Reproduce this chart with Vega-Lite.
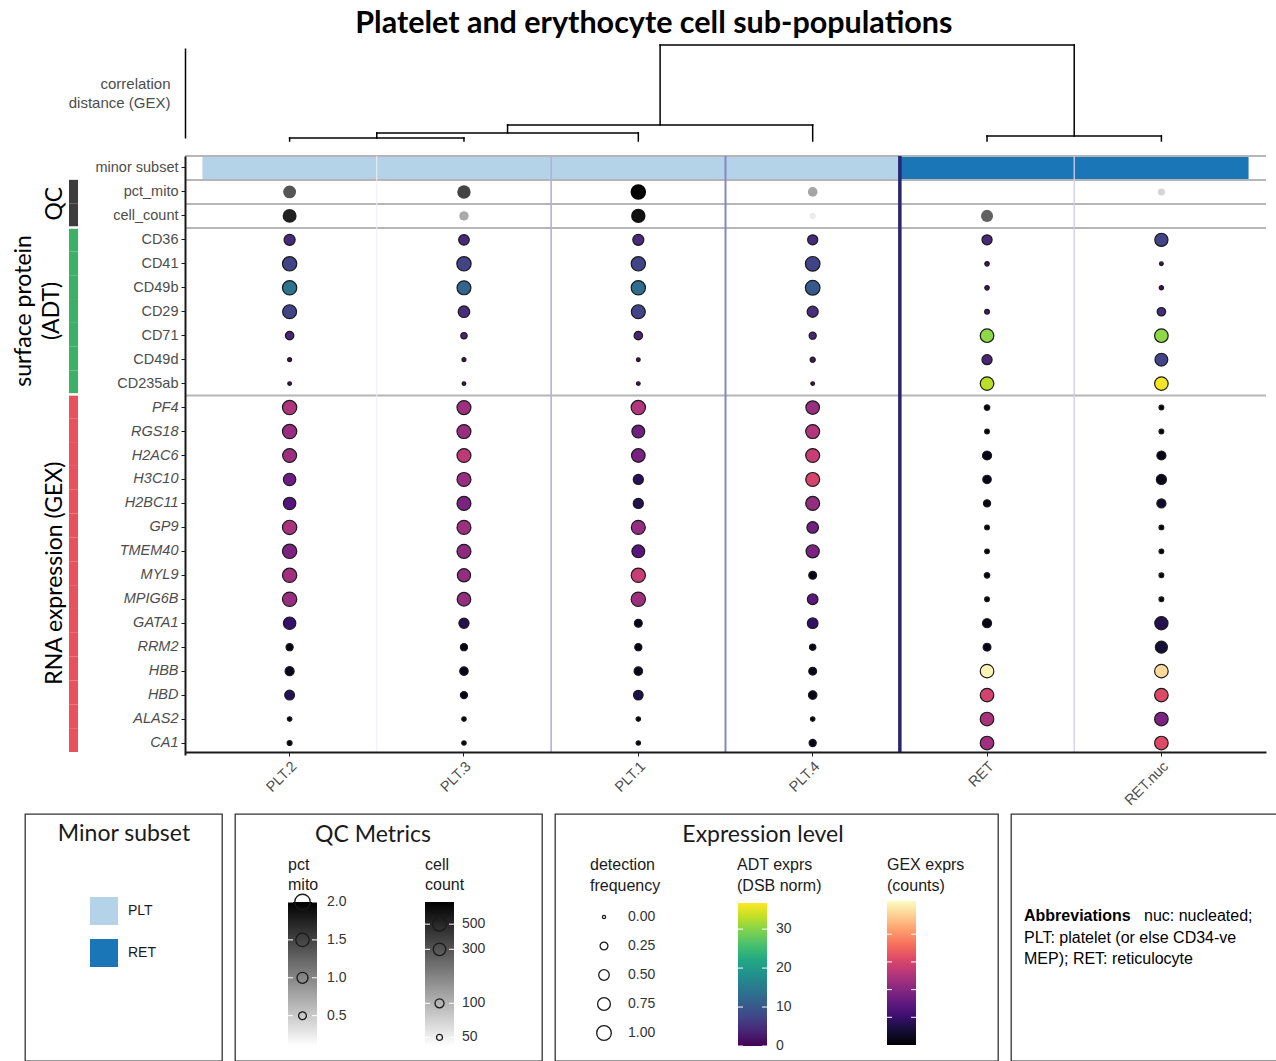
{
  "$schema": "https://vega.github.io/schema/vega-lite/v6.json",
  "padding": {"left": 5, "top": 9, "right": 0, "bottom": 0},
  "background": "white",
  "config": {"view": {"stroke": null}, "font": "Liberation Sans"},
  "title": {"text": "Platelet and erythocyte cell sub-populations", "font": "Lato", "fontSize": 30.5, "fontWeight": "bold", "color": "#000000", "anchor": "middle", "offset": 4, "dx": 12},
  "data": {"values": [{"one": 1}]},
  "datasets": {
    "subset": [
      {"c": "PLT.2", "r": "minor subset", "s": "PLT"},
      {"c": "PLT.3", "r": "minor subset", "s": "PLT"},
      {"c": "PLT.1", "r": "minor subset", "s": "PLT"},
      {"c": "PLT.4", "r": "minor subset", "s": "PLT"},
      {"c": "RET", "r": "minor subset", "s": "RET"},
      {"c": "RET.nuc", "r": "minor subset", "s": "RET"}
    ],
    "cuts": [
      {"c": "PLT.3", "h": 0.03},
      {"c": "PLT.1", "h": 0.08},
      {"c": "PLT.4", "h": 0.16},
      {"c": "RET.nuc", "h": 0.05},
      {"c": "RET", "h": 0.96}
    ],
    "hseps": [{"r": "minor subset"}, {"r": "pct_mito"}, {"r": "cell_count"}, {"r": "CD36"}, {"r": "PF4"}],
    "dendro": [
      {"x": 0, "x2": 0, "y": 0, "y2": 0.03},
      {"x": 1, "x2": 1, "y": 0, "y2": 0.03},
      {"x": 0, "x2": 1, "y": 0.03, "y2": 0.03},
      {"x": 0.5, "x2": 0.5, "y": 0.03, "y2": 0.08},
      {"x": 2, "x2": 2, "y": 0, "y2": 0.08},
      {"x": 0.5, "x2": 2, "y": 0.08, "y2": 0.08},
      {"x": 1.25, "x2": 1.25, "y": 0.08, "y2": 0.16},
      {"x": 3, "x2": 3, "y": 0, "y2": 0.16},
      {"x": 1.25, "x2": 3, "y": 0.16, "y2": 0.16},
      {"x": 2.125, "x2": 2.125, "y": 0.16, "y2": 0.96},
      {"x": 4, "x2": 4, "y": 0, "y2": 0.05},
      {"x": 5, "x2": 5, "y": 0, "y2": 0.05},
      {"x": 4, "x2": 5, "y": 0.05, "y2": 0.05},
      {"x": 4.5, "x2": 4.5, "y": 0.05, "y2": 0.96},
      {"x": 2.125, "x2": 4.5, "y": 0.96, "y2": 0.96}
    ],
    "groups": [
      {"r": "pct_mito", "g": "QC"}, {"r": "cell_count", "g": "QC"},
      {"r": "CD36", "g": "ADT"}, {"r": "CD41", "g": "ADT"}, {"r": "CD49b", "g": "ADT"}, {"r": "CD29", "g": "ADT"}, {"r": "CD71", "g": "ADT"}, {"r": "CD49d", "g": "ADT"}, {"r": "CD235ab", "g": "ADT"},
      {"r": "PF4", "g": "GEX"}, {"r": "RGS18", "g": "GEX"}, {"r": "H2AC6", "g": "GEX"}, {"r": "H3C10", "g": "GEX"}, {"r": "H2BC11", "g": "GEX"}, {"r": "GP9", "g": "GEX"}, {"r": "TMEM40", "g": "GEX"}, {"r": "MYL9", "g": "GEX"}, {"r": "MPIG6B", "g": "GEX"}, {"r": "GATA1", "g": "GEX"}, {"r": "RRM2", "g": "GEX"}, {"r": "HBB", "g": "GEX"}, {"r": "HBD", "g": "GEX"}, {"r": "ALAS2", "g": "GEX"}, {"r": "CA1", "g": "GEX"}
    ],
    "dots": [
      {"c": "PLT.2", "r": "pct_mito", "k": "QC", "v": 1.37},
      {"c": "PLT.3", "r": "pct_mito", "k": "QC", "v": 1.49},
      {"c": "PLT.1", "r": "pct_mito", "k": "QC", "v": 2.0},
      {"c": "PLT.4", "r": "pct_mito", "k": "QC", "v": 0.77},
      {"c": "RET.nuc", "r": "pct_mito", "k": "QC", "v": 0.41},
      {"c": "PLT.2", "r": "cell_count", "k": "QC", "v": 536},
      {"c": "PLT.3", "r": "cell_count", "k": "QC", "v": 111},
      {"c": "PLT.1", "r": "cell_count", "k": "QC", "v": 646},
      {"c": "PLT.4", "r": "cell_count", "k": "QC", "v": 52},
      {"c": "RET", "r": "cell_count", "k": "QC", "v": 258},

      {"c": "PLT.2", "r": "CD36", "k": "ADT", "v": 4.4, "f": 0.55},
      {"c": "PLT.2", "r": "CD41", "k": "ADT", "v": 7.3, "f": 0.95},
      {"c": "PLT.2", "r": "CD49b", "k": "ADT", "v": 14, "f": 0.95},
      {"c": "PLT.2", "r": "CD29", "k": "ADT", "v": 7.3, "f": 0.9},
      {"c": "PLT.2", "r": "CD71", "k": "ADT", "v": 3.7, "f": 0.3},
      {"c": "PLT.2", "r": "CD49d", "k": "ADT", "v": 1, "f": 0.03},
      {"c": "PLT.2", "r": "CD235ab", "k": "ADT", "v": 1, "f": 0.02},
      {"c": "PLT.3", "r": "CD36", "k": "ADT", "v": 4.4, "f": 0.5},
      {"c": "PLT.3", "r": "CD41", "k": "ADT", "v": 7.3, "f": 0.95},
      {"c": "PLT.3", "r": "CD49b", "k": "ADT", "v": 12, "f": 0.9},
      {"c": "PLT.3", "r": "CD29", "k": "ADT", "v": 4.6, "f": 0.6},
      {"c": "PLT.3", "r": "CD71", "k": "ADT", "v": 3.7, "f": 0.15},
      {"c": "PLT.3", "r": "CD49d", "k": "ADT", "v": 1, "f": 0.03},
      {"c": "PLT.3", "r": "CD235ab", "k": "ADT", "v": 1, "f": 0.02},
      {"c": "PLT.1", "r": "CD36", "k": "ADT", "v": 4.4, "f": 0.55},
      {"c": "PLT.1", "r": "CD41", "k": "ADT", "v": 7.3, "f": 0.95},
      {"c": "PLT.1", "r": "CD49b", "k": "ADT", "v": 13, "f": 0.95},
      {"c": "PLT.1", "r": "CD29", "k": "ADT", "v": 7.3, "f": 0.9},
      {"c": "PLT.1", "r": "CD71", "k": "ADT", "v": 3.7, "f": 0.3},
      {"c": "PLT.1", "r": "CD49d", "k": "ADT", "v": 1, "f": 0.02},
      {"c": "PLT.1", "r": "CD235ab", "k": "ADT", "v": 1, "f": 0.02},
      {"c": "PLT.4", "r": "CD36", "k": "ADT", "v": 4.4, "f": 0.45},
      {"c": "PLT.4", "r": "CD41", "k": "ADT", "v": 7.3, "f": 1.0},
      {"c": "PLT.4", "r": "CD49b", "k": "ADT", "v": 10.3, "f": 1.0},
      {"c": "PLT.4", "r": "CD29", "k": "ADT", "v": 4.6, "f": 0.55},
      {"c": "PLT.4", "r": "CD71", "k": "ADT", "v": 3.7, "f": 0.2},
      {"c": "PLT.4", "r": "CD49d", "k": "ADT", "v": 2, "f": 0.08},
      {"c": "PLT.4", "r": "CD235ab", "k": "ADT", "v": 1, "f": 0.02},
      {"c": "RET", "r": "CD36", "k": "ADT", "v": 4, "f": 0.45},
      {"c": "RET", "r": "CD41", "k": "ADT", "v": 1.5, "f": 0.05},
      {"c": "RET", "r": "CD49b", "k": "ADT", "v": 1.5, "f": 0.05},
      {"c": "RET", "r": "CD29", "k": "ADT", "v": 2, "f": 0.06},
      {"c": "RET", "r": "CD71", "k": "ADT", "v": 30.5, "f": 0.85},
      {"c": "RET", "r": "CD49d", "k": "ADT", "v": 3.7, "f": 0.45},
      {"c": "RET", "r": "CD235ab", "k": "ADT", "v": 33, "f": 0.85},
      {"c": "RET.nuc", "r": "CD36", "k": "ADT", "v": 7.3, "f": 0.8},
      {"c": "RET.nuc", "r": "CD41", "k": "ADT", "v": 1, "f": 0.02},
      {"c": "RET.nuc", "r": "CD49b", "k": "ADT", "v": 1, "f": 0.04},
      {"c": "RET.nuc", "r": "CD29", "k": "ADT", "v": 4.4, "f": 0.3},
      {"c": "RET.nuc", "r": "CD71", "k": "ADT", "v": 30.5, "f": 0.85},
      {"c": "RET.nuc", "r": "CD49d", "k": "ADT", "v": 7.3, "f": 0.75},
      {"c": "RET.nuc", "r": "CD235ab", "k": "ADT", "v": 36.3, "f": 0.85},

      {"c": "PLT.2", "r": "PF4", "k": "GEX", "v": 2.5, "f": 0.95},
      {"c": "PLT.2", "r": "RGS18", "k": "GEX", "v": 2.24, "f": 0.95},
      {"c": "PLT.2", "r": "H2AC6", "k": "GEX", "v": 2.29, "f": 0.9},
      {"c": "PLT.2", "r": "H3C10", "k": "GEX", "v": 1.66, "f": 0.7},
      {"c": "PLT.2", "r": "H2BC11", "k": "GEX", "v": 1.35, "f": 0.7},
      {"c": "PLT.2", "r": "GP9", "k": "GEX", "v": 2.44, "f": 0.95},
      {"c": "PLT.2", "r": "TMEM40", "k": "GEX", "v": 1.87, "f": 0.95},
      {"c": "PLT.2", "r": "MYL9", "k": "GEX", "v": 2.34, "f": 0.95},
      {"c": "PLT.2", "r": "MPIG6B", "k": "GEX", "v": 2.24, "f": 0.95},
      {"c": "PLT.2", "r": "GATA1", "k": "GEX", "v": 0.99, "f": 0.7},
      {"c": "PLT.2", "r": "RRM2", "k": "GEX", "v": 0.16, "f": 0.2},
      {"c": "PLT.2", "r": "HBB", "k": "GEX", "v": 0.26, "f": 0.35},
      {"c": "PLT.2", "r": "HBD", "k": "GEX", "v": 0.78, "f": 0.42},
      {"c": "PLT.2", "r": "ALAS2", "k": "GEX", "v": 0.1, "f": 0.05},
      {"c": "PLT.2", "r": "CA1", "k": "GEX", "v": 0.1, "f": 0.07},
      {"c": "PLT.3", "r": "PF4", "k": "GEX", "v": 2.29, "f": 0.9},
      {"c": "PLT.3", "r": "RGS18", "k": "GEX", "v": 2.24, "f": 0.9},
      {"c": "PLT.3", "r": "H2AC6", "k": "GEX", "v": 2.7, "f": 0.9},
      {"c": "PLT.3", "r": "H3C10", "k": "GEX", "v": 2.24, "f": 0.9},
      {"c": "PLT.3", "r": "H2BC11", "k": "GEX", "v": 1.87, "f": 0.9},
      {"c": "PLT.3", "r": "GP9", "k": "GEX", "v": 2.29, "f": 0.9},
      {"c": "PLT.3", "r": "TMEM40", "k": "GEX", "v": 2.13, "f": 0.9},
      {"c": "PLT.3", "r": "MYL9", "k": "GEX", "v": 2.18, "f": 0.8},
      {"c": "PLT.3", "r": "MPIG6B", "k": "GEX", "v": 2.18, "f": 0.85},
      {"c": "PLT.3", "r": "GATA1", "k": "GEX", "v": 0.73, "f": 0.45},
      {"c": "PLT.3", "r": "RRM2", "k": "GEX", "v": 0.16, "f": 0.2},
      {"c": "PLT.3", "r": "HBB", "k": "GEX", "v": 0.21, "f": 0.3},
      {"c": "PLT.3", "r": "HBD", "k": "GEX", "v": 0.21, "f": 0.2},
      {"c": "PLT.3", "r": "ALAS2", "k": "GEX", "v": 0.1, "f": 0.05},
      {"c": "PLT.3", "r": "CA1", "k": "GEX", "v": 0.1, "f": 0.05},
      {"c": "PLT.1", "r": "PF4", "k": "GEX", "v": 2.55, "f": 0.95},
      {"c": "PLT.1", "r": "RGS18", "k": "GEX", "v": 1.72, "f": 0.75},
      {"c": "PLT.1", "r": "H2AC6", "k": "GEX", "v": 1.82, "f": 0.85},
      {"c": "PLT.1", "r": "H3C10", "k": "GEX", "v": 0.78, "f": 0.45},
      {"c": "PLT.1", "r": "H2BC11", "k": "GEX", "v": 0.73, "f": 0.45},
      {"c": "PLT.1", "r": "GP9", "k": "GEX", "v": 2.18, "f": 0.9},
      {"c": "PLT.1", "r": "TMEM40", "k": "GEX", "v": 1.4, "f": 0.75},
      {"c": "PLT.1", "r": "MYL9", "k": "GEX", "v": 2.81, "f": 0.95},
      {"c": "PLT.1", "r": "MPIG6B", "k": "GEX", "v": 2.29, "f": 0.95},
      {"c": "PLT.1", "r": "GATA1", "k": "GEX", "v": 0.21, "f": 0.25},
      {"c": "PLT.1", "r": "RRM2", "k": "GEX", "v": 0.16, "f": 0.2},
      {"c": "PLT.1", "r": "HBB", "k": "GEX", "v": 0.21, "f": 0.3},
      {"c": "PLT.1", "r": "HBD", "k": "GEX", "v": 0.68, "f": 0.4},
      {"c": "PLT.1", "r": "ALAS2", "k": "GEX", "v": 0.1, "f": 0.05},
      {"c": "PLT.1", "r": "CA1", "k": "GEX", "v": 0.1, "f": 0.05},
      {"c": "PLT.4", "r": "PF4", "k": "GEX", "v": 2.24, "f": 0.85},
      {"c": "PLT.4", "r": "RGS18", "k": "GEX", "v": 2.55, "f": 0.9},
      {"c": "PLT.4", "r": "H2AC6", "k": "GEX", "v": 2.81, "f": 0.9},
      {"c": "PLT.4", "r": "H3C10", "k": "GEX", "v": 3.02, "f": 0.9},
      {"c": "PLT.4", "r": "H2BC11", "k": "GEX", "v": 2.18, "f": 0.9},
      {"c": "PLT.4", "r": "GP9", "k": "GEX", "v": 1.72, "f": 0.6},
      {"c": "PLT.4", "r": "TMEM40", "k": "GEX", "v": 1.87, "f": 0.8},
      {"c": "PLT.4", "r": "MYL9", "k": "GEX", "v": 0.21, "f": 0.25},
      {"c": "PLT.4", "r": "MPIG6B", "k": "GEX", "v": 1.46, "f": 0.5},
      {"c": "PLT.4", "r": "GATA1", "k": "GEX", "v": 0.94, "f": 0.5},
      {"c": "PLT.4", "r": "RRM2", "k": "GEX", "v": 0.16, "f": 0.15},
      {"c": "PLT.4", "r": "HBB", "k": "GEX", "v": 0.21, "f": 0.25},
      {"c": "PLT.4", "r": "HBD", "k": "GEX", "v": 0.21, "f": 0.3},
      {"c": "PLT.4", "r": "ALAS2", "k": "GEX", "v": 0.1, "f": 0.05},
      {"c": "PLT.4", "r": "CA1", "k": "GEX", "v": 0.21, "f": 0.2},
      {"c": "RET", "r": "PF4", "k": "GEX", "v": 0.1, "f": 0.1},
      {"c": "RET", "r": "RGS18", "k": "GEX", "v": 0.1, "f": 0.06},
      {"c": "RET", "r": "H2AC6", "k": "GEX", "v": 0.21, "f": 0.35},
      {"c": "RET", "r": "H3C10", "k": "GEX", "v": 0.21, "f": 0.3},
      {"c": "RET", "r": "H2BC11", "k": "GEX", "v": 0.21, "f": 0.2},
      {"c": "RET", "r": "GP9", "k": "GEX", "v": 0.1, "f": 0.06},
      {"c": "RET", "r": "TMEM40", "k": "GEX", "v": 0.1, "f": 0.06},
      {"c": "RET", "r": "MYL9", "k": "GEX", "v": 0.1, "f": 0.1},
      {"c": "RET", "r": "MPIG6B", "k": "GEX", "v": 0.1, "f": 0.06},
      {"c": "RET", "r": "GATA1", "k": "GEX", "v": 0.21, "f": 0.35},
      {"c": "RET", "r": "RRM2", "k": "GEX", "v": 0.21, "f": 0.25},
      {"c": "RET", "r": "HBB", "k": "GEX", "v": 5.1, "f": 0.85},
      {"c": "RET", "r": "HBD", "k": "GEX", "v": 2.96, "f": 0.85},
      {"c": "RET", "r": "ALAS2", "k": "GEX", "v": 2.44, "f": 0.85},
      {"c": "RET", "r": "CA1", "k": "GEX", "v": 2.34, "f": 0.85},
      {"c": "RET.nuc", "r": "PF4", "k": "GEX", "v": 0.1, "f": 0.06},
      {"c": "RET.nuc", "r": "RGS18", "k": "GEX", "v": 0.1, "f": 0.06},
      {"c": "RET.nuc", "r": "H2AC6", "k": "GEX", "v": 0.21, "f": 0.35},
      {"c": "RET.nuc", "r": "H3C10", "k": "GEX", "v": 0.26, "f": 0.45},
      {"c": "RET.nuc", "r": "H2BC11", "k": "GEX", "v": 0.42, "f": 0.35},
      {"c": "RET.nuc", "r": "GP9", "k": "GEX", "v": 0.1, "f": 0.06},
      {"c": "RET.nuc", "r": "TMEM40", "k": "GEX", "v": 0.1, "f": 0.06},
      {"c": "RET.nuc", "r": "MYL9", "k": "GEX", "v": 0.1, "f": 0.06},
      {"c": "RET.nuc", "r": "MPIG6B", "k": "GEX", "v": 0.1, "f": 0.06},
      {"c": "RET.nuc", "r": "GATA1", "k": "GEX", "v": 0.73, "f": 0.8},
      {"c": "RET.nuc", "r": "RRM2", "k": "GEX", "v": 0.52, "f": 0.65},
      {"c": "RET.nuc", "r": "HBB", "k": "GEX", "v": 4.8, "f": 0.85},
      {"c": "RET.nuc", "r": "HBD", "k": "GEX", "v": 3.12, "f": 0.85},
      {"c": "RET.nuc", "r": "ALAS2", "k": "GEX", "v": 1.87, "f": 0.85},
      {"c": "RET.nuc", "r": "CA1", "k": "GEX", "v": 3.12, "f": 0.85}
    ]
  },
  "spacing": 5,
  "resolve": {"scale": {"color": "independent", "size": "independent", "strokeWidth": "independent"}},
  "vconcat": [
    {
      "columns": 2, "align": "each", "bounds": "flush", "spacing": {"row": 18, "column": 102},
      "resolve": {"scale": {"color": "independent", "size": "independent", "strokeWidth": "independent"}},
      "concat": [
        {"width": 78, "height": 90, "mark": {"type": "point", "opacity": 0}, "encoding": {}},
        {
          "width": 1081, "height": 90,
          "data": {"name": "dendro"},
          "mark": {"type": "rule", "color": "#000000", "strokeWidth": 1.5, "strokeCap": "square"},
          "encoding": {
            "x": {"field": "x", "type": "quantitative", "scale": {"domain": [-0.6, 5.6], "nice": false, "zero": false}, "axis": null},
            "x2": {"field": "x2"},
            "y": {"field": "y", "type": "quantitative", "scale": {"domain": [0.03, 0.93], "nice": false, "zero": false},
              "axis": {"title": ["correlation", "distance (GEX)"], "labels": false, "ticks": false, "grid": false, "domain": true, "domainColor": "#000000", "domainWidth": 1.5, "titleAngle": 0, "titleAlign": "right", "titleBaseline": "middle", "titleX": -15, "titleY": 35, "titleFont": "Liberation Sans", "titleFontSize": 15, "titleFontWeight": "normal", "titleColor": "#4d4d4d", "titleLineHeight": 19}},
            "y2": {"field": "y2"}
          }
        },
        {
          "width": 78, "height": 596,
          "layer": [
            {"data": {"name": "groups"}, "mark": {"type": "rect"},
              "encoding": {
                "x": {"datum": 64, "type": "quantitative", "scale": {"domain": [0, 78], "nice": false, "zero": false}, "axis": null},
                "x2": {"datum": 73},
                "y": {"field": "r", "type": "nominal", "scale": {"type": "band", "domain": ["minor subset","pct_mito","cell_count","CD36","CD41","CD49b","CD29","CD71","CD49d","CD235ab","PF4","RGS18","H2AC6","H3C10","H2BC11","GP9","TMEM40","MYL9","MPIG6B","GATA1","RRM2","HBB","HBD","ALAS2","CA1"], "paddingInner": 0, "paddingOuter": 0, "range": [0, 596]}, "axis": null},
                "color": {"field": "g", "type": "nominal", "scale": {"domain": ["QC", "ADT", "GEX"], "range": ["#3d3d3d", "#3cb064", "#e8525c"]}, "legend": null}
              }},
            {"data": {"values": [{"r": "CD36"}, {"r": "PF4"}]}, "mark": {"type": "rule", "color": "#ffffff", "strokeWidth": 2.5},
              "encoding": {
                "x": {"datum": 62, "type": "quantitative", "scale": {"domain": [0, 78], "nice": false, "zero": false}, "axis": null},
                "x2": {"datum": 76},
                "y": {"field": "r", "type": "nominal", "bandPosition": 0, "scale": {"type": "band", "domain": ["minor subset","pct_mito","cell_count","CD36","CD41","CD49b","CD29","CD71","CD49d","CD235ab","PF4","RGS18","H2AC6","H3C10","H2BC11","GP9","TMEM40","MYL9","MPIG6B","GATA1","RRM2","HBB","HBD","ALAS2","CA1"], "paddingInner": 0, "paddingOuter": 0, "range": [0, 596]}, "axis": null}
              }},
            {"data": {"values": [{"r": "cell_count", "t": "QC"}]},
              "mark": {"type": "text", "angle": 270, "font": "Lato", "fontSize": 23, "align": "center", "baseline": "middle", "color": "#000000"},
              "encoding": {
                "x": {"datum": 50, "type": "quantitative", "scale": {"domain": [0, 78], "nice": false, "zero": false}, "axis": null},
                "y": {"field": "r", "type": "nominal", "bandPosition": 0, "scale": {"type": "band", "domain": ["minor subset","pct_mito","cell_count","CD36","CD41","CD49b","CD29","CD71","CD49d","CD235ab","PF4","RGS18","H2AC6","H3C10","H2BC11","GP9","TMEM40","MYL9","MPIG6B","GATA1","RRM2","HBB","HBD","ALAS2","CA1"], "paddingInner": 0, "paddingOuter": 0, "range": [0, 596]}, "axis": null},
                "text": {"field": "t"}
              }},
            {"data": {"values": [{"r": "CD29", "t": ["surface protein", "(ADT)"]}]},
              "mark": {"type": "text", "angle": 270, "font": "Lato", "fontSize": 23, "align": "center", "baseline": "middle", "color": "#000000", "lineHeight": 28},
              "encoding": {
                "x": {"datum": 19, "type": "quantitative", "scale": {"domain": [0, 78], "nice": false, "zero": false}, "axis": null},
                "y": {"field": "r", "type": "nominal", "scale": {"type": "band", "domain": ["minor subset","pct_mito","cell_count","CD36","CD41","CD49b","CD29","CD71","CD49d","CD235ab","PF4","RGS18","H2AC6","H3C10","H2BC11","GP9","TMEM40","MYL9","MPIG6B","GATA1","RRM2","HBB","HBD","ALAS2","CA1"], "paddingInner": 0, "paddingOuter": 0, "range": [0, 596]}, "axis": null},
                "text": {"field": "t"}
              }},
            {"data": {"values": [{"r": "MYL9", "t": "RNA expression (GEX)"}]},
              "mark": {"type": "text", "angle": 270, "font": "Lato", "fontSize": 23, "align": "center", "baseline": "middle", "color": "#000000"},
              "encoding": {
                "x": {"datum": 50, "type": "quantitative", "scale": {"domain": [0, 78], "nice": false, "zero": false}, "axis": null},
                "y": {"field": "r", "type": "nominal", "scale": {"type": "band", "domain": ["minor subset","pct_mito","cell_count","CD36","CD41","CD49b","CD29","CD71","CD49d","CD235ab","PF4","RGS18","H2AC6","H3C10","H2BC11","GP9","TMEM40","MYL9","MPIG6B","GATA1","RRM2","HBB","HBD","ALAS2","CA1"], "paddingInner": 0, "paddingOuter": 0, "range": [0, 596]}, "axis": null},
                "text": {"field": "t"}
              }}
          ]
        },
        {
          "width": 1081, "height": 596,
          "layer": [
            {"data": {"name": "subset"}, "mark": {"type": "rect"},
              "encoding": {
                "x": {"field": "c", "type": "nominal", "scale": {"type": "band", "domain": ["PLT.2","PLT.3","PLT.1","PLT.4","RET","RET.nuc"], "paddingInner": 0, "paddingOuter": 0.1},
                  "axis": {"title": null, "labelAngle": -45, "labelFontSize": 14.5, "labelColor": "#4d4d4d", "labelFont": "Liberation Sans", "tickColor": "#1a1a1a", "tickSize": 4, "tickWidth": 1, "domainColor": "#1a1a1a", "domainWidth": 2, "labelPadding": 3, "grid": false}},
                "y": {"field": "r", "type": "nominal", "scale": {"type": "band", "domain": ["minor subset","pct_mito","cell_count","CD36","CD41","CD49b","CD29","CD71","CD49d","CD235ab","PF4","RGS18","H2AC6","H3C10","H2BC11","GP9","TMEM40","MYL9","MPIG6B","GATA1","RRM2","HBB","HBD","ALAS2","CA1"], "paddingInner": 0, "paddingOuter": 0, "range": [0, 599]},
                  "axis": {"title": null, "labelFontSize": 14.5, "labelColor": "#4d4d4d", "labelFont": "Liberation Sans", "tickColor": "#1a1a1a", "tickSize": 4, "tickWidth": 1, "domainColor": "#1a1a1a", "domainWidth": 2, "labelPadding": 3, "grid": false,
                    "labelFontStyle": {"condition": {"test": "indexof(['PF4','RGS18','H2AC6','H3C10','H2BC11','GP9','TMEM40','MYL9','MPIG6B','GATA1','RRM2','HBB','HBD','ALAS2','CA1'], datum.value) >= 0", "value": "italic"}, "value": "normal"}}},
                "color": {"field": "s", "type": "nominal", "scale": {"domain": ["PLT", "RET"], "range": ["#b4d3e9", "#1a76b6"]}, "legend": null}
              }},
            {"data": {"name": "hseps"}, "mark": {"type": "rule", "color": "#b5b5b5", "strokeWidth": 2},
              "encoding": {
                "y": {"field": "r", "type": "nominal", "bandPosition": 0, "scale": {"type": "band", "domain": ["minor subset","pct_mito","cell_count","CD36","CD41","CD49b","CD29","CD71","CD49d","CD235ab","PF4","RGS18","H2AC6","H3C10","H2BC11","GP9","TMEM40","MYL9","MPIG6B","GATA1","RRM2","HBB","HBD","ALAS2","CA1"], "paddingInner": 0, "paddingOuter": 0, "range": [0, 599]},
                  "axis": {"title": null, "labelFontSize": 14.5, "labelColor": "#4d4d4d", "labelFont": "Liberation Sans", "tickColor": "#1a1a1a", "tickSize": 4, "tickWidth": 1, "domainColor": "#1a1a1a", "domainWidth": 2, "labelPadding": 3, "grid": false,
                    "labelFontStyle": {"condition": {"test": "indexof(['PF4','RGS18','H2AC6','H3C10','H2BC11','GP9','TMEM40','MYL9','MPIG6B','GATA1','RRM2','HBB','HBD','ALAS2','CA1'], datum.value) >= 0", "value": "italic"}, "value": "normal"}}}
              }},
            {"data": {"name": "cuts"}, "mark": {"type": "rule"},
              "encoding": {
                "x": {"field": "c", "type": "nominal", "bandPosition": 0, "scale": {"type": "band", "domain": ["PLT.2","PLT.3","PLT.1","PLT.4","RET","RET.nuc"], "paddingInner": 0, "paddingOuter": 0.1},
                  "axis": {"title": null, "labelAngle": -45, "labelFontSize": 14.5, "labelColor": "#4d4d4d", "labelFont": "Liberation Sans", "tickColor": "#1a1a1a", "tickSize": 4, "tickWidth": 1, "domainColor": "#1a1a1a", "domainWidth": 2, "labelPadding": 3, "grid": false}},
                "color": {"field": "h", "type": "quantitative", "scale": {"type": "log", "domain": [0.03, 0.16, 0.96], "range": ["#ededf5", "#8585c8", "#262673"], "interpolate": "rgb"}, "legend": null},
                "strokeWidth": {"field": "h", "type": "quantitative", "scale": {"type": "log", "domain": [0.03, 0.16, 0.96], "range": [1, 2, 3.5]}, "legend": null}
              }},
            {"data": {"name": "dots"}, "transform": [{"filter": "datum.r == 'pct_mito'"}],
              "mark": {"type": "circle", "opacity": 1, "strokeWidth": 0},
              "encoding": {
                "x": {"field": "c", "type": "nominal", "scale": {"type": "band", "domain": ["PLT.2","PLT.3","PLT.1","PLT.4","RET","RET.nuc"], "paddingInner": 0, "paddingOuter": 0.1},
                  "axis": {"title": null, "labelAngle": -45, "labelFontSize": 14.5, "labelColor": "#4d4d4d", "labelFont": "Liberation Sans", "tickColor": "#1a1a1a", "tickSize": 4, "tickWidth": 1, "domainColor": "#1a1a1a", "domainWidth": 2, "labelPadding": 3, "grid": false}},
                "y": {"field": "r", "type": "nominal", "scale": {"type": "band", "domain": ["minor subset","pct_mito","cell_count","CD36","CD41","CD49b","CD29","CD71","CD49d","CD235ab","PF4","RGS18","H2AC6","H3C10","H2BC11","GP9","TMEM40","MYL9","MPIG6B","GATA1","RRM2","HBB","HBD","ALAS2","CA1"], "paddingInner": 0, "paddingOuter": 0, "range": [0, 599]},
                  "axis": {"title": null, "labelFontSize": 14.5, "labelColor": "#4d4d4d", "labelFont": "Liberation Sans", "tickColor": "#1a1a1a", "tickSize": 4, "tickWidth": 1, "domainColor": "#1a1a1a", "domainWidth": 2, "labelPadding": 3, "grid": false,
                    "labelFontStyle": {"condition": {"test": "indexof(['PF4','RGS18','H2AC6','H3C10','H2BC11','GP9','TMEM40','MYL9','MPIG6B','GATA1','RRM2','HBB','HBD','ALAS2','CA1'], datum.value) >= 0", "value": "italic"}, "value": "normal"}}},
                "color": {"field": "v", "type": "quantitative", "scale": {"domain": [0.1, 2.0], "range": ["#ffffff", "#000000"], "interpolate": "rgb"}, "legend": null},
                "size": {"field": "v", "type": "quantitative", "scale": {"domain": [0.1, 2.0], "range": [13, 240]}, "legend": null}
              }},
            {"data": {"name": "dots"}, "transform": [{"filter": "datum.r == 'cell_count'"}],
              "mark": {"type": "circle", "opacity": 1, "strokeWidth": 0},
              "encoding": {
                "x": {"field": "c", "type": "nominal", "scale": {"type": "band", "domain": ["PLT.2","PLT.3","PLT.1","PLT.4","RET","RET.nuc"], "paddingInner": 0, "paddingOuter": 0.1},
                  "axis": {"title": null, "labelAngle": -45, "labelFontSize": 14.5, "labelColor": "#4d4d4d", "labelFont": "Liberation Sans", "tickColor": "#1a1a1a", "tickSize": 4, "tickWidth": 1, "domainColor": "#1a1a1a", "domainWidth": 2, "labelPadding": 3, "grid": false}},
                "y": {"field": "r", "type": "nominal", "scale": {"type": "band", "domain": ["minor subset","pct_mito","cell_count","CD36","CD41","CD49b","CD29","CD71","CD49d","CD235ab","PF4","RGS18","H2AC6","H3C10","H2BC11","GP9","TMEM40","MYL9","MPIG6B","GATA1","RRM2","HBB","HBD","ALAS2","CA1"], "paddingInner": 0, "paddingOuter": 0, "range": [0, 599]},
                  "axis": {"title": null, "labelFontSize": 14.5, "labelColor": "#4d4d4d", "labelFont": "Liberation Sans", "tickColor": "#1a1a1a", "tickSize": 4, "tickWidth": 1, "domainColor": "#1a1a1a", "domainWidth": 2, "labelPadding": 3, "grid": false,
                    "labelFontStyle": {"condition": {"test": "indexof(['PF4','RGS18','H2AC6','H3C10','H2BC11','GP9','TMEM40','MYL9','MPIG6B','GATA1','RRM2','HBB','HBD','ALAS2','CA1'], datum.value) >= 0", "value": "italic"}, "value": "normal"}}},
                "color": {"field": "v", "type": "quantitative", "scale": {"type": "log", "domain": [42, 785], "range": ["#ffffff", "#000000"], "interpolate": "rgb"}, "legend": null},
                "size": {"field": "v", "type": "quantitative", "scale": {"type": "log", "domain": [42, 785], "range": [24, 220]}, "legend": null}
              }},
            {"data": {"name": "dots"}, "transform": [{"filter": "datum.k == 'ADT'"}],
              "mark": {"type": "circle", "opacity": 1, "stroke": "#1a1a1a", "strokeWidth": 1.2},
              "encoding": {
                "x": {"field": "c", "type": "nominal", "scale": {"type": "band", "domain": ["PLT.2","PLT.3","PLT.1","PLT.4","RET","RET.nuc"], "paddingInner": 0, "paddingOuter": 0.1},
                  "axis": {"title": null, "labelAngle": -45, "labelFontSize": 14.5, "labelColor": "#4d4d4d", "labelFont": "Liberation Sans", "tickColor": "#1a1a1a", "tickSize": 4, "tickWidth": 1, "domainColor": "#1a1a1a", "domainWidth": 2, "labelPadding": 3, "grid": false}},
                "y": {"field": "r", "type": "nominal", "scale": {"type": "band", "domain": ["minor subset","pct_mito","cell_count","CD36","CD41","CD49b","CD29","CD71","CD49d","CD235ab","PF4","RGS18","H2AC6","H3C10","H2BC11","GP9","TMEM40","MYL9","MPIG6B","GATA1","RRM2","HBB","HBD","ALAS2","CA1"], "paddingInner": 0, "paddingOuter": 0, "range": [0, 599]},
                  "axis": {"title": null, "labelFontSize": 14.5, "labelColor": "#4d4d4d", "labelFont": "Liberation Sans", "tickColor": "#1a1a1a", "tickSize": 4, "tickWidth": 1, "domainColor": "#1a1a1a", "domainWidth": 2, "labelPadding": 3, "grid": false,
                    "labelFontStyle": {"condition": {"test": "indexof(['PF4','RGS18','H2AC6','H3C10','H2BC11','GP9','TMEM40','MYL9','MPIG6B','GATA1','RRM2','HBB','HBD','ALAS2','CA1'], datum.value) >= 0", "value": "italic"}, "value": "normal"}}},
                "color": {"field": "v", "type": "quantitative", "scale": {"scheme": "viridis", "domain": [0, 36.7]}, "legend": null},
                "size": {"field": "f", "type": "quantitative", "scale": {"domain": [0, 1], "range": [10, 215]}, "legend": null}
              }},
            {"data": {"name": "dots"}, "transform": [{"filter": "datum.k == 'GEX'"}],
              "mark": {"type": "circle", "opacity": 1, "stroke": "#1a1a1a", "strokeWidth": 1.2},
              "encoding": {
                "x": {"field": "c", "type": "nominal", "scale": {"type": "band", "domain": ["PLT.2","PLT.3","PLT.1","PLT.4","RET","RET.nuc"], "paddingInner": 0, "paddingOuter": 0.1},
                  "axis": {"title": null, "labelAngle": -45, "labelFontSize": 14.5, "labelColor": "#4d4d4d", "labelFont": "Liberation Sans", "tickColor": "#1a1a1a", "tickSize": 4, "tickWidth": 1, "domainColor": "#1a1a1a", "domainWidth": 2, "labelPadding": 3, "grid": false}},
                "y": {"field": "r", "type": "nominal", "scale": {"type": "band", "domain": ["minor subset","pct_mito","cell_count","CD36","CD41","CD49b","CD29","CD71","CD49d","CD235ab","PF4","RGS18","H2AC6","H3C10","H2BC11","GP9","TMEM40","MYL9","MPIG6B","GATA1","RRM2","HBB","HBD","ALAS2","CA1"], "paddingInner": 0, "paddingOuter": 0, "range": [0, 599]},
                  "axis": {"title": null, "labelFontSize": 14.5, "labelColor": "#4d4d4d", "labelFont": "Liberation Sans", "tickColor": "#1a1a1a", "tickSize": 4, "tickWidth": 1, "domainColor": "#1a1a1a", "domainWidth": 2, "labelPadding": 3, "grid": false,
                    "labelFontStyle": {"condition": {"test": "indexof(['PF4','RGS18','H2AC6','H3C10','H2BC11','GP9','TMEM40','MYL9','MPIG6B','GATA1','RRM2','HBB','HBD','ALAS2','CA1'], datum.value) >= 0", "value": "italic"}, "value": "normal"}}},
                "color": {"field": "v", "type": "quantitative", "scale": {"scheme": "magma", "domain": [0, 5.2]}, "legend": null},
                "size": {"field": "f", "type": "quantitative", "scale": {"domain": [0, 1], "range": [10, 215]}, "legend": null}
              }}
          ],
          "resolve": {"scale": {"color": "independent", "size": "independent", "strokeWidth": "independent"}}
        }
      ]
    },
    {
      "spacing": 11,
      "resolve": {"scale": {"color": "independent", "size": "independent", "strokeWidth": "independent"}},
      "hconcat": [
        {"width": 8, "height": 10, "mark": {"type": "point", "opacity": 0}, "encoding": {}},
        {
          "width": 197, "height": 247, "view": {"stroke": "#333333", "strokeWidth": 1.3},
          "layer": [
            {"mark": {"type": "text", "text": "Minor subset", "font": "Lato", "fontSize": 23, "align": "center", "baseline": "middle", "color": "#1a1a1a"},
              "encoding": {
                "x": {"datum": 99, "type": "quantitative", "scale": {"domain": [0, 197], "nice": false, "zero": false}, "axis": null},
                "y": {"datum": 20, "type": "quantitative", "scale": {"domain": [0, 247], "range": [0, 247], "nice": false, "zero": false}, "axis": null}
              }},
            {"data": {"values": [{"s": "PLT"}, {"s": "RET"}]},
              "layer": [
                {"mark": {"type": "square", "size": 784, "opacity": 1, "filled": true},
                  "encoding": {
                    "x": {"datum": 79, "type": "quantitative", "scale": {"domain": [0, 197], "nice": false, "zero": false}, "axis": null},
                    "y": {"field": "s", "type": "nominal", "scale": {"type": "point", "domain": ["PLT", "RET"], "range": [97, 139], "padding": 0}, "axis": null},
                    "color": {"field": "s", "type": "nominal", "scale": {"domain": ["PLT", "RET"], "range": ["#b4d3e9", "#1a76b6"]}, "legend": null}
                  }},
                {"mark": {"type": "text", "fontSize": 14, "align": "left", "baseline": "middle", "color": "#1a1a1a"},
                  "encoding": {
                    "x": {"datum": 103, "type": "quantitative", "scale": {"domain": [0, 197], "nice": false, "zero": false}, "axis": null},
                    "y": {"field": "s", "type": "nominal", "scale": {"type": "point", "domain": ["PLT", "RET"], "range": [97, 139], "padding": 0}, "axis": null},
                    "text": {"field": "s"}
                  }}
              ]}
          ],
          "resolve": {"scale": {"y": "independent"}}
        },
        {
          "width": 307, "height": 247, "view": {"stroke": "#333333", "strokeWidth": 1.3},
          "layer": [
            {"layer": [
              {"mark": {"type": "text", "text": "QC Metrics", "font": "Lato", "fontSize": 23, "align": "center", "baseline": "middle", "color": "#1a1a1a"},
                "encoding": {
                  "x": {"datum": 138, "type": "quantitative", "scale": {"domain": [0, 307], "nice": false, "zero": false}, "axis": null},
                  "y": {"datum": 21, "type": "quantitative", "scale": {"domain": [0, 247], "range": [0, 247], "nice": false, "zero": false}, "axis": null}
                }},
              {"mark": {"type": "text", "text": ["pct", "mito"], "fontSize": 16, "align": "left", "baseline": "alphabetic", "lineHeight": 20, "color": "#1a1a1a"},
                "encoding": {
                  "x": {"datum": 53, "type": "quantitative", "scale": {"domain": [0, 307], "nice": false, "zero": false}, "axis": null},
                  "y": {"datum": 56, "type": "quantitative", "scale": {"domain": [0, 247], "range": [0, 247], "nice": false, "zero": false}, "axis": null}
                }},
              {"mark": {"type": "text", "text": ["cell", "count"], "fontSize": 16, "align": "left", "baseline": "alphabetic", "lineHeight": 20, "color": "#1a1a1a"},
                "encoding": {
                  "x": {"datum": 190, "type": "quantitative", "scale": {"domain": [0, 307], "nice": false, "zero": false}, "axis": null},
                  "y": {"datum": 56, "type": "quantitative", "scale": {"domain": [0, 247], "range": [0, 247], "nice": false, "zero": false}, "axis": null}
                }}
            ]},
            {"data": {"values": [{"v": 2.0}, {"v": 1.5}, {"v": 1.0}, {"v": 0.5}]},
              "layer": [
                {"data": {"values": [{"one": 1}]},
                  "mark": {"type": "rect", "fill": {"gradient": "linear", "x1": 0, "y1": 1, "x2": 0, "y2": 0, "stops": [{"offset": 0, "color": "#ffffff"}, {"offset": 1, "color": "#000000"}]}},
                  "encoding": {
                    "x": {"datum": 53, "type": "quantitative", "scale": {"domain": [0, 307], "nice": false, "zero": false}, "axis": null},
                    "x2": {"datum": 82},
                    "y": {"datum": 0.1, "type": "quantitative", "scale": {"domain": [0.1, 2.0], "range": [232, 88], "nice": false, "zero": false}, "axis": null},
                    "y2": {"datum": 2.0}
                  }},
                {"mark": {"type": "rule", "color": "#ffffff", "strokeWidth": 1},
                  "encoding": {
                    "x": {"datum": 53, "type": "quantitative", "scale": {"domain": [0, 307], "nice": false, "zero": false}, "axis": null},
                    "x2": {"datum": 58},
                    "y": {"field": "v", "type": "quantitative", "scale": {"domain": [0.1, 2.0], "range": [232, 88], "nice": false, "zero": false}, "axis": null}
                  }},
                {"mark": {"type": "rule", "color": "#ffffff", "strokeWidth": 1},
                  "encoding": {
                    "x": {"datum": 77, "type": "quantitative", "scale": {"domain": [0, 307], "nice": false, "zero": false}, "axis": null},
                    "x2": {"datum": 82},
                    "y": {"field": "v", "type": "quantitative", "scale": {"domain": [0.1, 2.0], "range": [232, 88], "nice": false, "zero": false}, "axis": null}
                  }},
                {"mark": {"type": "point", "filled": false, "color": "#1a1a1a", "strokeWidth": 1.3, "opacity": 1},
                  "encoding": {
                    "x": {"datum": 67.5, "type": "quantitative", "scale": {"domain": [0, 307], "nice": false, "zero": false}, "axis": null},
                    "y": {"field": "v", "type": "quantitative", "scale": {"domain": [0.1, 2.0], "range": [232, 88], "nice": false, "zero": false}, "axis": null},
                    "size": {"field": "v", "type": "quantitative", "scale": {"domain": [0.1, 2.0], "range": [13, 240]}, "legend": null}
                  }},
                {"mark": {"type": "text", "fontSize": 14, "align": "left", "baseline": "middle", "color": "#333333"},
                  "encoding": {
                    "x": {"datum": 92, "type": "quantitative", "scale": {"domain": [0, 307], "nice": false, "zero": false}, "axis": null},
                    "y": {"field": "v", "type": "quantitative", "scale": {"domain": [0.1, 2.0], "range": [232, 88], "nice": false, "zero": false}, "axis": null},
                    "text": {"field": "v", "type": "quantitative", "format": ".1f"}
                  }}
              ]},
            {"data": {"values": [{"v": 500}, {"v": 300}, {"v": 100}, {"v": 50}]},
              "layer": [
                {"data": {"values": [{"one": 1}]},
                  "mark": {"type": "rect", "fill": {"gradient": "linear", "x1": 0, "y1": 1, "x2": 0, "y2": 0, "stops": [{"offset": 0, "color": "#ffffff"}, {"offset": 1, "color": "#000000"}]}},
                  "encoding": {
                    "x": {"datum": 190, "type": "quantitative", "scale": {"domain": [0, 307], "nice": false, "zero": false}, "axis": null},
                    "x2": {"datum": 219},
                    "y": {"datum": 42, "type": "quantitative", "scale": {"type": "log", "domain": [42, 785], "range": [232, 88], "nice": false, "zero": false}, "axis": null},
                    "y2": {"datum": 785}
                  }},
                {"mark": {"type": "rule", "color": "#ffffff", "strokeWidth": 1},
                  "encoding": {
                    "x": {"datum": 190, "type": "quantitative", "scale": {"domain": [0, 307], "nice": false, "zero": false}, "axis": null},
                    "x2": {"datum": 195},
                    "y": {"field": "v", "type": "quantitative", "scale": {"type": "log", "domain": [42, 785], "range": [232, 88], "nice": false, "zero": false}, "axis": null}
                  }},
                {"mark": {"type": "rule", "color": "#ffffff", "strokeWidth": 1},
                  "encoding": {
                    "x": {"datum": 214, "type": "quantitative", "scale": {"domain": [0, 307], "nice": false, "zero": false}, "axis": null},
                    "x2": {"datum": 219},
                    "y": {"field": "v", "type": "quantitative", "scale": {"type": "log", "domain": [42, 785], "range": [232, 88], "nice": false, "zero": false}, "axis": null}
                  }},
                {"mark": {"type": "point", "filled": false, "color": "#1a1a1a", "strokeWidth": 1.3, "opacity": 1},
                  "encoding": {
                    "x": {"datum": 204.5, "type": "quantitative", "scale": {"domain": [0, 307], "nice": false, "zero": false}, "axis": null},
                    "y": {"field": "v", "type": "quantitative", "scale": {"type": "log", "domain": [42, 785], "range": [232, 88], "nice": false, "zero": false}, "axis": null},
                    "size": {"field": "v", "type": "quantitative", "scale": {"type": "log", "domain": [42, 785], "range": [24, 220]}, "legend": null}
                  }},
                {"mark": {"type": "text", "fontSize": 14, "align": "left", "baseline": "middle", "color": "#333333"},
                  "encoding": {
                    "x": {"datum": 227, "type": "quantitative", "scale": {"domain": [0, 307], "nice": false, "zero": false}, "axis": null},
                    "y": {"field": "v", "type": "quantitative", "scale": {"type": "log", "domain": [42, 785], "range": [232, 88], "nice": false, "zero": false}, "axis": null},
                    "text": {"field": "v", "type": "quantitative", "format": "d"}
                  }}
              ]}
          ],
          "resolve": {"scale": {"y": "independent", "size": "independent"}}
        },
        {
          "width": 443, "height": 247, "view": {"stroke": "#333333", "strokeWidth": 1.3},
          "layer": [
            {"layer": [
              {"mark": {"type": "text", "text": "Expression level", "font": "Lato", "fontSize": 23, "align": "center", "baseline": "middle", "color": "#1a1a1a"},
                "encoding": {
                  "x": {"datum": 208, "type": "quantitative", "scale": {"domain": [0, 443], "nice": false, "zero": false}, "axis": null},
                  "y": {"datum": 21, "type": "quantitative", "scale": {"domain": [0, 247], "range": [0, 247], "nice": false, "zero": false}, "axis": null}
                }},
              {"mark": {"type": "text", "text": ["detection", "frequency"], "fontSize": 16, "align": "left", "baseline": "alphabetic", "lineHeight": 20.5, "color": "#1a1a1a"},
                "encoding": {
                  "x": {"datum": 35, "type": "quantitative", "scale": {"domain": [0, 443], "nice": false, "zero": false}, "axis": null},
                  "y": {"datum": 56, "type": "quantitative", "scale": {"domain": [0, 247], "range": [0, 247], "nice": false, "zero": false}, "axis": null}
                }},
              {"mark": {"type": "text", "text": ["ADT exprs", "(DSB norm)"], "fontSize": 16, "align": "left", "baseline": "alphabetic", "lineHeight": 20.5, "color": "#1a1a1a"},
                "encoding": {
                  "x": {"datum": 182, "type": "quantitative", "scale": {"domain": [0, 443], "nice": false, "zero": false}, "axis": null},
                  "y": {"datum": 56, "type": "quantitative", "scale": {"domain": [0, 247], "range": [0, 247], "nice": false, "zero": false}, "axis": null}
                }},
              {"mark": {"type": "text", "text": ["GEX exprs", "(counts)"], "fontSize": 16, "align": "left", "baseline": "alphabetic", "lineHeight": 20.5, "color": "#1a1a1a"},
                "encoding": {
                  "x": {"datum": 332, "type": "quantitative", "scale": {"domain": [0, 443], "nice": false, "zero": false}, "axis": null},
                  "y": {"datum": 56, "type": "quantitative", "scale": {"domain": [0, 247], "range": [0, 247], "nice": false, "zero": false}, "axis": null}
                }}
            ]},
            {"data": {"values": [{"f": 0}, {"f": 0.25}, {"f": 0.5}, {"f": 0.75}, {"f": 1}]},
              "layer": [
                {"mark": {"type": "point", "filled": false, "color": "#1a1a1a", "strokeWidth": 1.3, "opacity": 1},
                  "encoding": {
                    "x": {"datum": 49, "type": "quantitative", "scale": {"domain": [0, 443], "nice": false, "zero": false}, "axis": null},
                    "y": {"field": "f", "type": "quantitative", "scale": {"domain": [0, 1], "range": [103, 219], "nice": false, "zero": false}, "axis": null},
                    "size": {"field": "f", "type": "quantitative", "scale": {"domain": [0, 1], "range": [10, 215]}, "legend": null}
                  }},
                {"mark": {"type": "text", "fontSize": 14, "align": "left", "baseline": "middle", "color": "#333333"},
                  "encoding": {
                    "x": {"datum": 73, "type": "quantitative", "scale": {"domain": [0, 443], "nice": false, "zero": false}, "axis": null},
                    "y": {"field": "f", "type": "quantitative", "scale": {"domain": [0, 1], "range": [103, 219], "nice": false, "zero": false}, "axis": null},
                    "text": {"field": "f", "type": "quantitative", "format": ".2f"}
                  }}
              ]},
            {"data": {"values": [{"v": 0}, {"v": 10}, {"v": 20}, {"v": 30}]},
              "layer": [
                {"data": {"values": [{"one": 1}]},
                  "mark": {"type": "rect", "fill": {"gradient": "linear", "x1": 0, "y1": 1, "x2": 0, "y2": 0, "stops": [
                    {"offset": 0, "color": "#440154"}, {"offset": 0.1, "color": "#482475"}, {"offset": 0.2, "color": "#414487"}, {"offset": 0.3, "color": "#355f8d"}, {"offset": 0.4, "color": "#2a788e"}, {"offset": 0.5, "color": "#21918c"}, {"offset": 0.6, "color": "#22a884"}, {"offset": 0.7, "color": "#44bf70"}, {"offset": 0.8, "color": "#7ad151"}, {"offset": 0.9, "color": "#bddf26"}, {"offset": 1, "color": "#fde725"}]}},
                  "encoding": {
                    "x": {"datum": 183, "type": "quantitative", "scale": {"domain": [0, 443], "nice": false, "zero": false}, "axis": null},
                    "x2": {"datum": 212},
                    "y": {"datum": 0, "type": "quantitative", "scale": {"domain": [0, 36.7], "range": [232, 89], "nice": false, "zero": false}, "axis": null},
                    "y2": {"datum": 36.7}
                  }},
                {"mark": {"type": "rule", "color": "#ffffff", "strokeWidth": 1},
                  "encoding": {
                    "x": {"datum": 183, "type": "quantitative", "scale": {"domain": [0, 443], "nice": false, "zero": false}, "axis": null},
                    "x2": {"datum": 188},
                    "y": {"field": "v", "type": "quantitative", "scale": {"domain": [0, 36.7], "range": [232, 89], "nice": false, "zero": false}, "axis": null}
                  }},
                {"mark": {"type": "rule", "color": "#ffffff", "strokeWidth": 1},
                  "encoding": {
                    "x": {"datum": 207, "type": "quantitative", "scale": {"domain": [0, 443], "nice": false, "zero": false}, "axis": null},
                    "x2": {"datum": 212},
                    "y": {"field": "v", "type": "quantitative", "scale": {"domain": [0, 36.7], "range": [232, 89], "nice": false, "zero": false}, "axis": null}
                  }},
                {"mark": {"type": "text", "fontSize": 14, "align": "left", "baseline": "middle", "color": "#333333"},
                  "encoding": {
                    "x": {"datum": 221, "type": "quantitative", "scale": {"domain": [0, 443], "nice": false, "zero": false}, "axis": null},
                    "y": {"field": "v", "type": "quantitative", "scale": {"domain": [0, 36.7], "range": [232, 89], "nice": false, "zero": false}, "axis": null},
                    "text": {"field": "v", "type": "quantitative", "format": "d"}
                  }}
              ]},
            {"data": {"values": [{"v": 1}, {"v": 2}, {"v": 3}, {"v": 4}]},
              "layer": [
                {"data": {"values": [{"one": 1}]},
                  "mark": {"type": "rect", "fill": {"gradient": "linear", "x1": 0, "y1": 1, "x2": 0, "y2": 0, "stops": [
                    {"offset": 0, "color": "#000004"}, {"offset": 0.1, "color": "#140e36"}, {"offset": 0.2, "color": "#3b0f70"}, {"offset": 0.3, "color": "#641a80"}, {"offset": 0.4, "color": "#8c2981"}, {"offset": 0.5, "color": "#b73779"}, {"offset": 0.6, "color": "#de4968"}, {"offset": 0.7, "color": "#f7705c"}, {"offset": 0.8, "color": "#fe9f6d"}, {"offset": 0.9, "color": "#fecf92"}, {"offset": 1, "color": "#fcfdbf"}]}},
                  "encoding": {
                    "x": {"datum": 332, "type": "quantitative", "scale": {"domain": [0, 443], "nice": false, "zero": false}, "axis": null},
                    "x2": {"datum": 361},
                    "y": {"datum": 0, "type": "quantitative", "scale": {"domain": [0, 5.2], "range": [231, 87], "nice": false, "zero": false}, "axis": null},
                    "y2": {"datum": 5.2}
                  }},
                {"mark": {"type": "rule", "color": "#ffffff", "strokeWidth": 1},
                  "encoding": {
                    "x": {"datum": 332, "type": "quantitative", "scale": {"domain": [0, 443], "nice": false, "zero": false}, "axis": null},
                    "x2": {"datum": 337},
                    "y": {"field": "v", "type": "quantitative", "scale": {"domain": [0, 5.2], "range": [231, 87], "nice": false, "zero": false}, "axis": null}
                  }},
                {"mark": {"type": "rule", "color": "#ffffff", "strokeWidth": 1},
                  "encoding": {
                    "x": {"datum": 356, "type": "quantitative", "scale": {"domain": [0, 443], "nice": false, "zero": false}, "axis": null},
                    "x2": {"datum": 361},
                    "y": {"field": "v", "type": "quantitative", "scale": {"domain": [0, 5.2], "range": [231, 87], "nice": false, "zero": false}, "axis": null}
                  }}
              ]}
          ],
          "resolve": {"scale": {"y": "independent", "size": "independent"}}
        },
        {
          "width": 267, "height": 247, "view": {"stroke": "#333333", "strokeWidth": 1.3},
          "layer": [
            {"mark": {"type": "text", "text": "Abbreviations", "fontSize": 16, "fontWeight": "bold", "align": "left", "baseline": "alphabetic", "color": "#000000"},
              "encoding": {
                "x": {"datum": 13, "type": "quantitative", "scale": {"domain": [0, 267], "nice": false, "zero": false}, "axis": null},
                "y": {"datum": 107, "type": "quantitative", "scale": {"domain": [0, 247], "range": [0, 247], "nice": false, "zero": false}, "axis": null}
              }},
            {"mark": {"type": "text", "text": "nuc: nucleated;", "fontSize": 16, "align": "left", "baseline": "alphabetic", "color": "#000000"},
              "encoding": {
                "x": {"datum": 133, "type": "quantitative", "scale": {"domain": [0, 267], "nice": false, "zero": false}, "axis": null},
                "y": {"datum": 107, "type": "quantitative", "scale": {"domain": [0, 247], "range": [0, 247], "nice": false, "zero": false}, "axis": null}
              }},
            {"mark": {"type": "text", "text": ["PLT: platelet (or else CD34-ve", "MEP); RET: reticulocyte"], "fontSize": 16, "lineHeight": 21.5, "align": "left", "baseline": "alphabetic", "color": "#000000"},
              "encoding": {
                "x": {"datum": 13, "type": "quantitative", "scale": {"domain": [0, 267], "nice": false, "zero": false}, "axis": null},
                "y": {"datum": 128.5, "type": "quantitative", "scale": {"domain": [0, 247], "range": [0, 247], "nice": false, "zero": false}, "axis": null}
              }}
          ]
        }
      ]
    }
  ]
}
